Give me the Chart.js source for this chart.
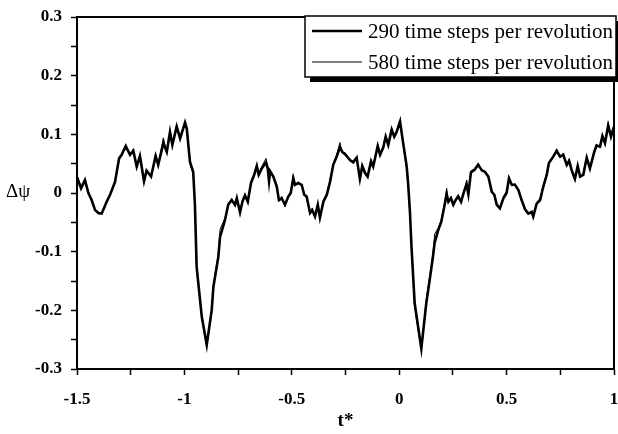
<!DOCTYPE html>
<html>
<head>
<meta charset="utf-8">
<script src="https://cdn.jsdelivr.net/npm/chart.js@4"></script>
<style>
    body { margin: 0; background: #fff; }
</style>
</head>
<body>
<canvas id="myChart" width="618" height="434"></canvas>
<script>
"use strict";

// t* (revolutions) sampled along the trace
const tValues = [
    -1.500, -1.481, -1.463, -1.447, -1.432, -1.416, -1.400, -1.385, -1.362, -1.346,
    -1.323, -1.304, -1.292, -1.273, -1.253, -1.238, -1.222, -1.207, -1.188, -1.176,
    -1.155, -1.134, -1.122, -1.098, -1.082, -1.067, -1.056, -1.036, -1.020, -0.997,
    -0.989, -0.974, -0.959, -0.951, -0.943, -0.919, -0.896, -0.873, -0.865, -0.842,
    -0.834, -0.811, -0.796, -0.780, -0.764, -0.756, -0.741, -0.730, -0.718, -0.705,
    -0.690, -0.675, -0.663, -0.654, -0.640, -0.620, -0.612, -0.606, -0.601, -0.586,
    -0.570, -0.560, -0.547, -0.532, -0.516, -0.505, -0.493, -0.485, -0.470, -0.454,
    -0.442, -0.431, -0.415, -0.405, -0.392, -0.379, -0.369, -0.353, -0.337, -0.322,
    -0.307, -0.291, -0.276, -0.265, -0.252, -0.229, -0.214, -0.198, -0.183, -0.172,
    -0.159, -0.147, -0.131, -0.121, -0.100, -0.089, -0.074, -0.063, -0.051, -0.035,
    -0.023, -0.012, 0.004, 0.014, 0.035, 0.042, 0.050, 0.057, 0.072, 0.103,
    0.126, 0.142, 0.157, 0.165, 0.181, 0.196, 0.210, 0.221, 0.229, 0.241,
    0.252, 0.263, 0.275, 0.288, 0.303, 0.314, 0.322, 0.334, 0.350, 0.368,
    0.384, 0.399, 0.415, 0.431, 0.443, 0.454, 0.469, 0.485, 0.500, 0.511,
    0.524, 0.539, 0.555, 0.570, 0.586, 0.601, 0.617, 0.624, 0.640, 0.656,
    0.671, 0.687, 0.697, 0.717, 0.733, 0.749, 0.764, 0.780, 0.791, 0.803,
    0.818, 0.831, 0.842, 0.857, 0.873, 0.888, 0.908, 0.919, 0.935, 0.946,
    0.958, 0.973, 0.986, 1.000
];

// delta psi, 290 steps per revolution
const steps290 = [
    0.027, 0.008, 0.022, 0.000, -0.012, -0.029, -0.034, -0.035, -0.015, -0.003,
    0.019, 0.059, 0.065, 0.080, 0.065, 0.072, 0.045, 0.063, 0.020, 0.038,
    0.028, 0.063, 0.048, 0.085, 0.070, 0.104, 0.082, 0.113, 0.093, 0.120,
    0.110, 0.053, 0.036, -0.020, -0.126, -0.211, -0.259, -0.200, -0.160, -0.109,
    -0.075, -0.046, -0.020, -0.012, -0.020, -0.009, -0.033, -0.015, -0.004, -0.015,
    0.017, 0.031, 0.046, 0.031, 0.042, 0.052, 0.042, 0.020, 0.037, 0.028,
    0.011, -0.012, -0.009, -0.020, -0.006, 0.000, 0.025, 0.014, 0.017, 0.014,
    -0.003, -0.006, -0.034, -0.029, -0.040, -0.020, -0.042, -0.015, -0.003, 0.019,
    0.048, 0.062, 0.078, 0.070, 0.066, 0.056, 0.052, 0.060, 0.024, 0.046,
    0.034, 0.028, 0.054, 0.045, 0.080, 0.065, 0.078, 0.096, 0.082, 0.108,
    0.096, 0.104, 0.122, 0.096, 0.045, 0.014, -0.032, -0.090, -0.188, -0.265,
    -0.188, -0.148, -0.109, -0.085, -0.064, -0.049, -0.023, -0.002, -0.015, -0.009,
    -0.020, -0.012, -0.006, -0.015, 0.004, 0.014, -0.002, 0.035, 0.039, 0.048,
    0.039, 0.036, 0.028, 0.002, -0.003, -0.020, -0.026, -0.009, 0.000, 0.025,
    0.014, 0.014, 0.005, -0.012, -0.028, -0.035, -0.032, -0.040, -0.018, -0.012,
    0.011, 0.031, 0.051, 0.062, 0.072, 0.062, 0.065, 0.048, 0.055, 0.039,
    0.024, 0.046, 0.028, 0.031, 0.060, 0.042, 0.070, 0.081, 0.079, 0.097,
    0.085, 0.115, 0.096, 0.113
];

// delta psi, 580 steps per revolution
const steps580 = [
    0.030, 0.010, 0.024, 0.002, -0.010, -0.027, -0.036, -0.034, -0.017, -0.002,
    0.021, 0.057, 0.067, 0.082, 0.063, 0.075, 0.042, 0.066, 0.016, 0.040,
    0.026, 0.066, 0.046, 0.094, 0.068, 0.108, 0.080, 0.117, 0.091, 0.122,
    0.108, 0.050, 0.032, -0.028, -0.130, -0.214, -0.262, -0.196, -0.155, -0.104,
    -0.062, -0.043, -0.018, -0.010, -0.023, -0.006, -0.036, -0.012, -0.002, -0.018,
    0.020, 0.033, 0.049, 0.029, 0.045, 0.059, 0.040, 0.017, 0.040, 0.026,
    0.014, -0.014, -0.006, -0.023, -0.004, 0.002, 0.031, 0.012, 0.019, 0.012,
    -0.001, -0.009, -0.036, -0.026, -0.043, -0.018, -0.045, -0.013, 0.000, 0.022,
    0.050, 0.065, 0.086, 0.068, 0.069, 0.054, 0.055, 0.062, 0.021, 0.048,
    0.032, 0.030, 0.057, 0.043, 0.083, 0.063, 0.081, 0.099, 0.080, 0.111,
    0.094, 0.106, 0.124, 0.092, 0.040, 0.008, -0.038, -0.098, -0.194, -0.268,
    -0.182, -0.142, -0.104, -0.070, -0.060, -0.046, -0.020, 0.008, -0.017, -0.006,
    -0.022, -0.010, -0.003, -0.017, 0.006, 0.022, -0.004, 0.038, 0.041, 0.051,
    0.037, 0.038, 0.026, 0.004, -0.006, -0.022, -0.028, -0.006, 0.003, 0.028,
    0.012, 0.016, 0.003, -0.014, -0.030, -0.033, -0.034, -0.043, -0.016, -0.009,
    0.014, 0.034, 0.053, 0.060, 0.075, 0.060, 0.068, 0.046, 0.058, 0.036,
    0.021, 0.049, 0.026, 0.034, 0.063, 0.040, 0.073, 0.083, 0.077, 0.100,
    0.083, 0.120, 0.094, 0.116
];

const seriesLabels = ['290 time steps per revolution', '580 time steps per revolution'];
const xTitle = 't*';
const yTitle = '\u0394\u03c8';

const serif = "'Liberation Serif', 'Times New Roman', serif";

function toPoints(values) {
    return tValues.map((t, i) => ({x: t, y: values[i]}));
}

function isMultiple(v, step) {
    const q = v / step;
    return Math.abs(q - Math.round(q)) < 1e-6;
}

// frame, legend box with shadow and the two axis titles
const decorations = {
    id: 'decorations',
    afterDraw(chart) {
        const {ctx, chartArea: a} = chart;
        ctx.save();

        ctx.strokeStyle = '#000';
        ctx.lineWidth = 2;
        ctx.strokeRect(a.left, a.top, a.right - a.left, a.bottom - a.top);

        // legend
        const box = {x: 305, y: 16, w: 311, h: 61};
        ctx.fillStyle = '#000';
        ctx.fillRect(box.x + 5, box.y + box.h, box.w - 3, 5);
        ctx.fillRect(box.x + box.w, box.y + 5, 3, box.h);
        ctx.fillStyle = '#fff';
        ctx.fillRect(box.x, box.y, box.w, box.h);
        ctx.lineWidth = 1.5;
        ctx.strokeRect(box.x, box.y, box.w, box.h);

        ctx.font = '21px ' + serif;
        ctx.textBaseline = 'middle';
        ctx.textAlign = 'left';
        chart.data.datasets.forEach((ds, i) => {
            const y = box.y + 15 + i * 31;
            ctx.beginPath();
            ctx.lineWidth = ds.borderWidth;
            ctx.strokeStyle = ds.borderColor;
            ctx.moveTo(312, y);
            ctx.lineTo(362, y);
            ctx.stroke();
            ctx.fillStyle = '#000';
            ctx.fillText(ds.label, 368, y + 1);
        });

        // axis titles
        ctx.fillStyle = '#000';
        ctx.textAlign = 'center';
        ctx.font = '19px ' + serif;
        ctx.fillText(yTitle, 18, 192);
        ctx.font = 'bold 19px ' + serif;
        ctx.fillText(xTitle, (a.left + a.right) / 2, 421);

        ctx.restore();
    }
};

const tickFont = {family: serif, size: 17, weight: 'bold'};

const ctx = document.getElementById('myChart');
const myChart = new Chart(ctx, {
    type: 'line',
    data: {
        datasets: [{
            label: seriesLabels[0],
            data: toPoints(steps290),
            borderColor: '#000',
            borderWidth: 2.6,
            pointRadius: 0,
            tension: 0,
            order: 2
        }, {
            label: seriesLabels[1],
            data: toPoints(steps580),
            borderColor: '#000',
            borderWidth: 1,
            pointRadius: 0,
            tension: 0,
            order: 1
        }]
    },
    options: {
        responsive: false,
        animation: false,
        devicePixelRatio: 1,
        layout: {
            padding: {left: 0, right: 4, top: 17, bottom: 0}
        },
        plugins: {
            legend: {display: false},
            tooltip: {enabled: false}
        },
        scales: {
            x: {
                type: 'linear',
                min: -1.5,
                max: 1,
                afterFit(scale) {
                    scale.height = 65;
                    scale.paddingLeft = 0;
                    scale.paddingRight = 0;
                },
                border: {display: true, color: '#000', width: 2},
                grid: {
                    drawOnChartArea: false,
                    drawTicks: true,
                    tickLength: 6,
                    tickColor: '#000',
                    tickWidth: 1.5
                },
                ticks: {
                    stepSize: 0.25,
                    autoSkip: false,
                    maxRotation: 0,
                    padding: 14,
                    color: '#000',
                    font: tickFont,
                    callback: (v) => isMultiple(v, 0.5) ? String(Math.round(v * 10) / 10) : ''
                }
            },
            y: {
                min: -0.3,
                max: 0.3,
                afterFit(scale) {
                    scale.width = 77;
                    scale.paddingTop = 0;
                    scale.paddingBottom = 0;
                },
                border: {display: true, color: '#000', width: 2},
                grid: {
                    drawOnChartArea: false,
                    drawTicks: true,
                    tickLength: 6,
                    tickColor: '#000',
                    tickWidth: 1.5
                },
                ticks: {
                    stepSize: 0.05,
                    autoSkip: false,
                    padding: 9,
                    color: '#000',
                    font: tickFont,
                    callback: (v) => isMultiple(v, 0.1) ? String(Math.round(v * 10) / 10) : ''
                }
            }
        }
    },
    plugins: [decorations]
});
</script>
</body>
</html>
